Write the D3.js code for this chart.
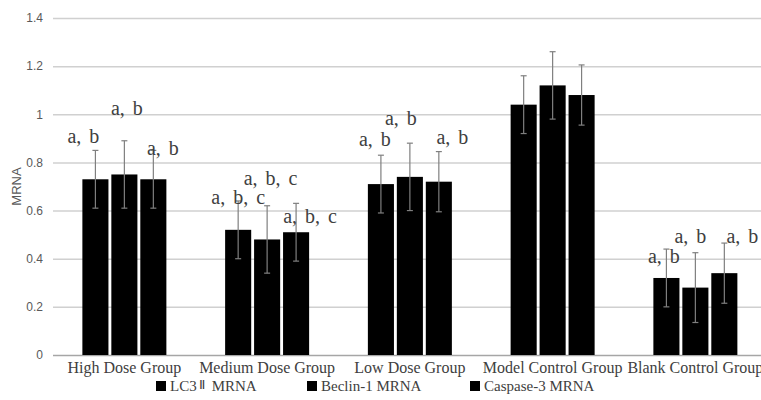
<!DOCTYPE html>
<html>
<head>
<meta charset="utf-8">
<script src="https://cdn.jsdelivr.net/npm/d3@7/dist/d3.min.js"></script>
<style>
  html, body { margin: 0; padding: 0; background: #fff; }
  svg { display: block; }
</style>
</head>
<body>
<svg id="chart" width="761" height="400"></svg>
<script>
// ---- data ----
const categories = ["High Dose Group", "Medium Dose Group", "Low Dose Group", "Model Control Group", "Blank Control Group"];
const seriesNames = ["LC3\u2161 MRNA", "Beclin-1 MRNA", "Caspase-3 MRNA"];
const lc3Values      = [0.73, 0.52, 0.71, 1.04, 0.32];
const beclinValues   = [0.75, 0.48, 0.74, 1.12, 0.28];
const caspaseValues  = [0.73, 0.51, 0.72, 1.08, 0.34];
const lc3Errors      = [0.12, 0.12, 0.12, 0.12, 0.12];
const beclinErrors   = [0.14, 0.14, 0.14, 0.14, 0.145];
const caspaseErrors  = [0.12, 0.12, 0.125, 0.125, 0.125];
const yTicks = [0, 0.2, 0.4, 0.6, 0.8, 1, 1.2, 1.4];
// significance labels per category (one per series)
const sigLabels = [
  ["a, b", "a, b", "a, b"],
  ["a, b, c", "a, b, c", "a, b, c"],
  ["a, b", "a, b", "a, b"],
  ["", "", ""],
  ["a, b", "a, b", "a, b"]
];
// label anchor (value units) and horizontal nudge, as placed in the original
const sigLabelValue = [
  [0.881, 0.997, 0.831],
  [0.627, 0.706, 0.548],
  [0.869, 0.955, 0.877],
  [0, 0, 0],
  [0.383, 0.465, 0.465]
];
const sigLabelDx = [
  [-12, 2.5, 9.5],
  [0, 3.5, 14],
  [-6, -9, 13.5],
  [0, 0, 0],
  [-2.5, -5, 18]
];

const seriesValues = [lc3Values, beclinValues, caspaseValues];
const seriesErrors = [lc3Errors, beclinErrors, caspaseErrors];

// ---- layout ----
const svg = d3.select("#chart");
const plotLeft = 53, plotRight = 766.75, plotTop = 18, plotBottom = 355;

const x0 = d3.scaleBand().domain(categories).range([plotLeft, plotRight]).paddingInner(0).paddingOuter(0);
const groupWidth = 84;
const x1 = d3.scaleBand().domain(d3.range(3)).range([0, groupWidth]).paddingInner(0.1).paddingOuter(0);
const y = d3.scaleLinear().domain([0, 1.4]).range([plotBottom, plotTop]);

// gridlines
const yAxis = d3.axisLeft(y).tickValues(yTicks).tickSize(-(761 - plotLeft)).tickPadding(10)
  .tickFormat(d => String(+d.toFixed(1)));
const gy = svg.append("g").attr("transform", `translate(${plotLeft},0)`).call(yAxis);
gy.select(".domain").remove();
gy.selectAll(".tick line").attr("stroke", "#d0d0d0").attr("stroke-width", 1.5);
gy.selectAll(".tick text").attr("fill", "#595959").attr("font-family", "Liberation Sans, Arial, sans-serif").attr("font-size", 12);
gy.selectAll(".tick").filter(d => d === 0).select("line").attr("stroke", "#a6a6a6");

// y title
svg.append("text")
  .attr("transform", `translate(21,${(plotTop + plotBottom) / 2}) rotate(-90)`)
  .attr("text-anchor", "middle")
  .attr("fill", "#595959")
  .attr("font-family", "Liberation Sans, Arial, sans-serif")
  .attr("font-size", 13)
  .text("MRNA");

// bars
const groups = svg.append("g").selectAll("g").data(categories).join("g")
  .attr("transform", d => `translate(${x0(d) + (x0.bandwidth() - groupWidth) / 2},0)`);

groups.each(function(cat, ci) {
  const g = d3.select(this);
  for (let s = 0; s < 3; s++) {
    const v = seriesValues[s][ci];
    const e = seriesErrors[s][ci];
    const bx = x1(s);
    const cx = bx + x1.bandwidth() / 2;
    g.append("rect")
      .attr("x", bx).attr("y", y(v))
      .attr("width", x1.bandwidth()).attr("height", y(0) - y(v))
      .attr("fill", "#000");
    // error bar
    g.append("line").attr("x1", cx).attr("x2", cx).attr("y1", y(v + e)).attr("y2", y(v - e))
      .attr("stroke", "#7f7f7f").attr("stroke-width", 1.2);
    [v + e, v - e].forEach(t => {
      g.append("line").attr("x1", cx - 3).attr("x2", cx + 3).attr("y1", y(t)).attr("y2", y(t))
        .attr("stroke", "#7f7f7f").attr("stroke-width", 1.2);
    });
  }
});

// significance labels
groups.each(function(cat, ci) {
  const g = d3.select(this);
  for (let s = 0; s < 3; s++) {
    const txt = sigLabels[ci][s];
    if (!txt) continue;
    const cx = x1(s) + x1.bandwidth() / 2 + sigLabelDx[ci][s];
    g.append("text")
      .attr("x", cx).attr("y", y(sigLabelValue[ci][s]))
      .attr("text-anchor", "middle")
      .attr("fill", "#404040")
      .attr("font-family", "Liberation Serif, Times New Roman, serif")
      .attr("font-size", 20)
      .attr("word-spacing", 3)
      .text(txt);
  }
});

// category labels
svg.append("g").selectAll("text").data(categories).join("text")
  .attr("x", d => x0(d) + x0.bandwidth() / 2)
  .attr("y", 373)
  .attr("text-anchor", "middle")
  .attr("fill", "#404040")
  .attr("font-family", "Liberation Serif, Times New Roman, serif")
  .attr("font-size", 16)
  .text(d => d);

// legend
const legendX = [156, 307, 470];
const lg = svg.append("g").selectAll("g").data(seriesNames).join("g")
  .attr("transform", (d, i) => `translate(${legendX[i]},0)`);
lg.append("rect").attr("x", 0).attr("y", 381).attr("width", 10).attr("height", 10).attr("fill", "#000");
lg.append("text")
  .attr("x", 14).attr("y", 391)
  .attr("fill", "#404040")
  .attr("font-family", "Liberation Serif, Times New Roman, serif")
  .attr("font-size", 15)
  .each(function(d) {
    const t = d3.select(this);
    if (d.includes("\u2161")) {
      t.append("tspan").text("LC3");
      t.append("tspan").attr("font-size", 13).attr("dy", -2).attr("dx", 2).text("\u2161");
      t.append("tspan").attr("dy", 2).attr("dx", 7).text("MRNA");
    } else {
      t.text(d);
    }
  });
</script>
</body>
</html>
